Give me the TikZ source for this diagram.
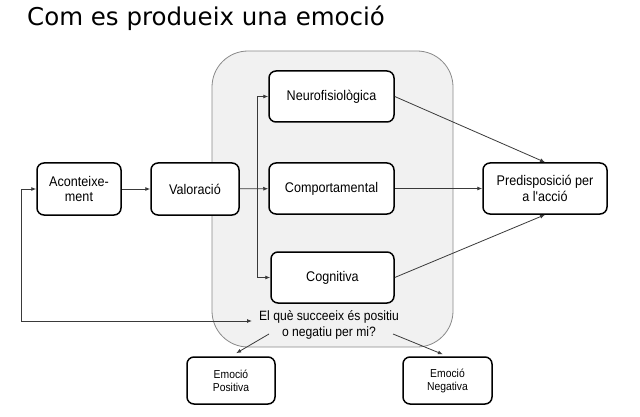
\documentclass[tikz,border=0pt]{standalone}
\usepackage{fontspec}
\setmainfont{Liberation Sans}
\newfontfamily\titlefont{DejaVu Sans}
\newfontfamily\boxfont{Liberation Sans}[FakeStretch=0.9]
\usetikzlibrary{arrows.meta}
\definecolor{linegray}{HTML}{3A3A3A}
\definecolor{panelfill}{HTML}{F1F1F1}
\definecolor{panelline}{HTML}{8A8A8A}
\tikzset{
  stepbox/.style={draw=black, line width=1.5pt, rounded corners=7pt, fill=white,
    align=center, inner sep=0pt, font=\boxfont\fontsize{14}{15.5}\selectfont},
  smallbox/.style={stepbox, font=\boxfont\fontsize{11.5}{13}\selectfont},
  conn/.style={draw=linegray, line width=0.8pt, -{Latex[length=5pt,width=4pt]}},
}
\begin{document}
\begin{tikzpicture}[x=1pt,y=-1pt]
\useasboundingbox (0,0) rectangle (640,417);
\fill[white] (0,0) rectangle (640,417);
% title
\node[anchor=base west, inner sep=0pt, font=\titlefont\fontsize{24.5}{28}\selectfont] (title) at (27,26) {Com es produeix una emoció};
% panel
\draw[panelline, fill=panelfill, line width=0.8pt, rounded corners=36pt] (212,51) rectangle (453,347);
% nodes
\node[stepbox, minimum width=84pt, minimum height=52pt] (acont) at (79,189) {Aconteixe-\\ment};
\node[stepbox, minimum width=88pt, minimum height=52pt] (val) at (195,189) {Valoració};
\node[stepbox, minimum width=125pt, minimum height=51pt] (neuro) at (331.5,96.5) {Neurofisiològica};
\node[stepbox, minimum width=125pt, minimum height=51pt] (comp) at (331.5,188.5) {Comportamental};
\node[stepbox, minimum width=123pt, minimum height=51pt] (cogn) at (332.5,277.5) {Cognitiva};
\node[stepbox, minimum width=124pt, minimum height=51pt] (pred) at (545,188.5) {Predisposició per\\a l'acció};
\node[align=center, inner sep=0pt, font=\boxfont\fontsize{13.5}{15.5}\selectfont] (q) at (329,325) {El què succeeix és positiu\\o negatiu per mi?};
\node[smallbox, minimum width=88pt, minimum height=47pt] (pos) at (231,380.5) {Emoció\\Positiva};
\node[smallbox, minimum width=89pt, minimum height=47pt] (neg) at (447.5,380.5) {Emoció\\Negativa};
% coordinates
\coordinate (br) at (257,189);
\coordinate (fb) at (21,321);
\coordinate (qin) at (252,321);
\coordinate (ql) at (269,334);
\coordinate (qr) at (393,334);
% connectors
\draw[conn] (acont) -- (val);
\draw[conn] (val) -- (comp);
\draw[conn] (br) |- (neuro.west);
\draw[conn] (br) |- (cogn.west);
\draw[conn] (neuro.east) -- (pred.north);
\draw[conn] (comp) -- (pred);
\draw[conn] (cogn.east) -- (pred.south);
\draw[conn, {Latex[length=5pt,width=4pt]}-{Latex[length=5pt,width=4pt]}] (acont.west) -| (fb) -- (qin);
\draw[conn, shorten >=6pt] (ql) -- (pos.north);
\draw[conn, shorten >=5pt] (qr) -- (neg.north);
\end{tikzpicture}
\end{document}
